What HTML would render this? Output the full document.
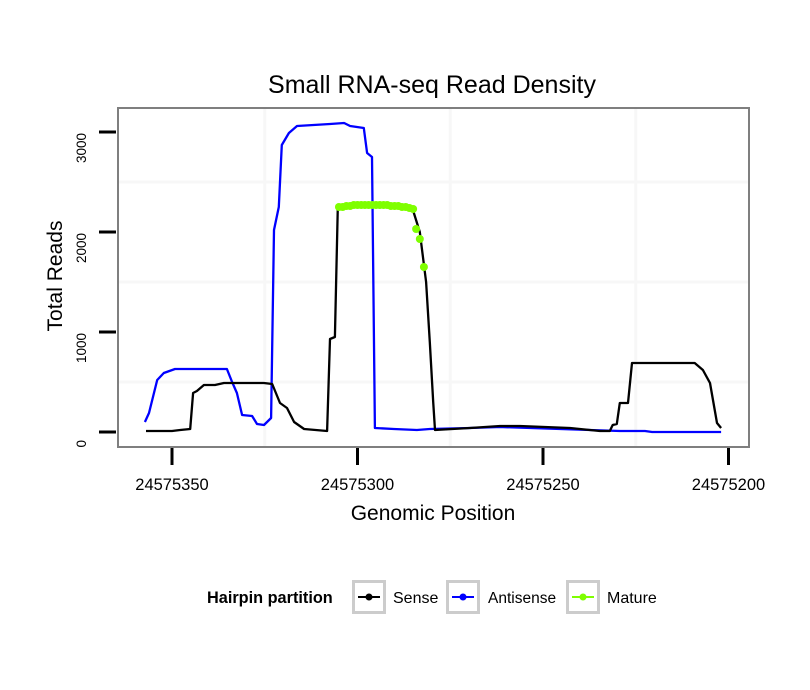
<!DOCTYPE html>
<html><head><meta charset="utf-8"><style>
body{margin:0;background:#fff;}
svg{display:block;font-family:"Liberation Sans",sans-serif;}
</style></head><body>
<svg id="chart" width="810" height="690">
<text x="432" y="93" font-size="25" text-anchor="middle">Small RNA-seq Read Density</text>
<g id="grid"></g>
<g id="series"></g>
<rect x="118" y="108" width="631" height="339" fill="none" stroke="#7f7f7f" stroke-width="2"/>
<g id="axes"></g>
<text x="433" y="520" font-size="21" text-anchor="middle">Genomic Position</text>
<text transform="translate(62,276) rotate(-90)" font-size="21" text-anchor="middle">Total Reads</text>
<g>
<text x="207" y="603" font-size="16.3" font-weight="bold">Hairpin partition</text>
<g>
<rect x="353.5" y="581.5" width="31" height="31" fill="#fff" stroke="#ccc" stroke-width="3"/>
<line x1="358" y1="597" x2="380" y2="597" stroke="#000" stroke-width="2"/><circle cx="369" cy="597" r="3.5" fill="#000"/>
<text x="393" y="603" font-size="16">Sense</text></g>
<g>
<rect x="447.5" y="581.5" width="31" height="31" fill="#fff" stroke="#ccc" stroke-width="3"/>
<line x1="452" y1="597" x2="474" y2="597" stroke="#0000ff" stroke-width="2"/><circle cx="463" cy="597" r="3.5" fill="#0000ff"/>
<text x="488" y="603" font-size="15.5">Antisense</text></g>
<g>
<rect x="567.5" y="581.5" width="31" height="31" fill="#fff" stroke="#ccc" stroke-width="3"/>
<line x1="572" y1="597" x2="594" y2="597" stroke="#7fff00" stroke-width="2"/><circle cx="583" cy="597" r="3.5" fill="#7fff00"/>
<text x="607" y="603" font-size="16">Mature</text></g>
</g>
</svg>
<script>
const BASE = 24575000;
const xTicks = [24575350, 24575300, 24575250, 24575200];
const yTicks = [0, 1000, 2000, 3000];
const senseX = [357,350,347.8,345.1,344.3,343.3,341.4,338.4,336,325.2,323,320.9,319,317.1,314.4,308.2,307.4,306.1,305.3,295,285.3,283.2,281.5,280.5,279.6,279.1,269.7,261.6,256.2,242.7,234.7,232,231.2,230.1,229.3,227.1,226,213.1,209.1,206.9,205,203.1,202];
const senseY = [10,10,20,30,390,410,470,470,490,490,480,290,240,100,30,10,930,950,2250,2260,2250,2000,1500,900,300,20,40,60,60,40,10,10,70,80,290,290,690,690,690,620,490,90,40];
const antiX = [357.3,356.2,354,352.2,349.2,335.2,333.8,332.5,331.1,328.4,327.1,325.2,323.3,322.5,321.2,320.4,318.5,316.3,307.4,303.6,302,298.3,297.4,296.1,295.3,290.2,284,280.5,269.7,261.6,245.4,229.3,222.5,220.6,202];
const antiY = [100,190,520,590,630,630,500,390,170,160,80,70,140,2020,2250,2870,2990,3060,3080,3090,3060,3040,2790,2750,40,30,20,30,40,50,30,10,10,0,0];
const matureX = [305,304,303,302,301,300,299,298,297,296,295,294,293,292,291,290,289,288,287,286,285,284.2,283.2,282.1];
const matureY = [2250,2250,2260,2260,2270,2270,2270,2270,2270,2270,2270,2270,2270,2270,2260,2260,2260,2250,2250,2240,2230,2030,1930,1650];

const NS = "http://www.w3.org/2000/svg";
function sx(v){ return 172 + (24575350 - v) * 3.71; }
function sy(v){ return 432 - v * 0.1; }
function mk(tag, attrs, parent){ const e=document.createElementNS(NS,tag); for(const k in attrs) e.setAttribute(k,attrs[k]); parent.appendChild(e); return e; }
const grid=document.getElementById('grid'), series=document.getElementById('series'), axes=document.getElementById('axes');
[500,1500,2500].forEach(v=>{
  const l=mk('line',{x1:118,x2:749,y1:sy(v),y2:sy(v),stroke:'#f7f7f7','stroke-width':3},grid);
  
  
});
[24575325,24575275,24575225].forEach(v=>{
  const l=mk('line',{x1:sx(v),x2:sx(v),y1:108,y2:447,stroke:'#f7f7f7','stroke-width':3},grid);
  
  
});
yTicks.forEach(v=>{
  const t=mk('line',{x1:99,x2:116,y1:sy(v),y2:sy(v),stroke:'#000','stroke-width':3},axes);
  
  
  const lb=mk('text',{transform:`translate(86,${sy(v)+(v===0?8:1)}) rotate(-90)`,'font-size':13.5,'text-anchor':'end'},axes);
  lb.textContent=v;
  
  
});
xTicks.forEach(v=>{
  const t=mk('line',{x1:sx(v),x2:sx(v),y1:448,y2:465,stroke:'#000','stroke-width':3},axes);
  
  
  const lb=mk('text',{x:sx(v),y:490,'font-size':16.5,'text-anchor':'middle'},axes);
  lb.textContent=v;
  
  
});
function line(xs,ys,color,name){
  const pts=xs.map((x,i)=>sx(BASE+x).toFixed(1)+','+sy(ys[i]).toFixed(1)).join(' ');
  const p=mk('polyline',{points:pts,fill:'none',stroke:color,'stroke-width':2.3,'stroke-linejoin':'round'},series);
  
  
}
line(antiX,antiY,'#0000ff','antisense-line');
line(senseX,senseY,'#000000','sense-line');
matureX.forEach((x,i)=>{
  const c=mk('circle',{cx:sx(BASE+x),cy:sy(matureY[i]),r:4,fill:'#7fff00'},series);
  
  
});
</script>
</body></html>
